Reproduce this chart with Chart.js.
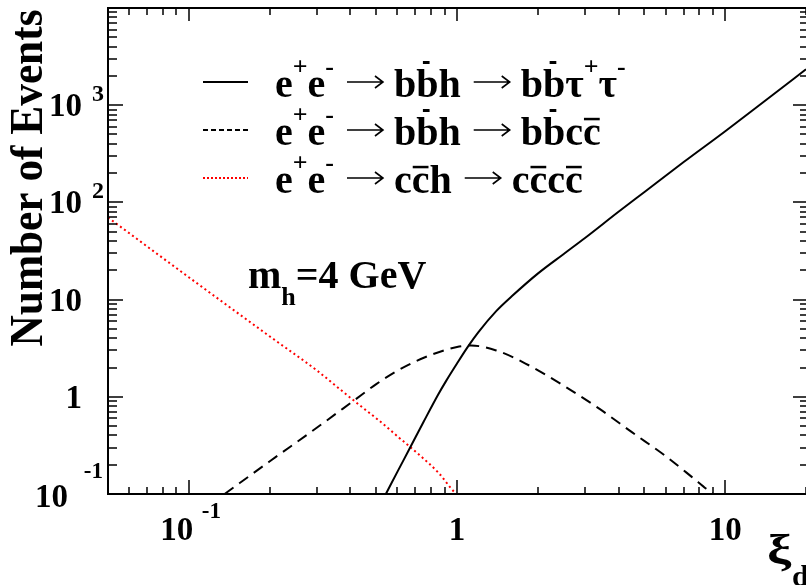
<!DOCTYPE html>
<html>
<head>
<meta charset="utf-8">
<script src="https://cdn.jsdelivr.net/npm/chart.js@4"></script>
<style>
  html, body { margin: 0; padding: 0; background: #fff; }
</style>
</head>
<body>
<canvas id="c" width="806" height="585"></canvas>
<script>
// e+e- -> bbh -> bb tau tau (solid)
const tauX = [0.543, 0.6, 0.66, 0.75, 0.85, 0.91, 1.0, 1.1, 1.2, 1.4, 1.6, 2.0, 2.5, 3.0, 4.0, 5.0, 7.0, 10, 14, 20];
const tauY = [0.1, 0.17, 0.28, 0.55, 1.05, 1.45, 2.2, 3.3, 4.6, 7.6, 10.8, 18.5, 29.5, 43, 80, 128, 260, 540, 1100, 2340];
// e+e- -> bbh -> bbcc (dashed)
const bbccX = [0.136, 0.2, 0.3, 0.416, 0.5, 0.608, 0.8, 1.0, 1.13, 1.4, 1.8, 2.5, 3.4, 4.5, 6.0, 7.5, 8.5, 9.0];
const bbccY = [0.1, 0.216, 0.48, 0.93, 1.35, 1.9, 2.7, 3.25, 3.37, 3.0, 2.2, 1.3, 0.75, 0.43, 0.245, 0.15, 0.113, 0.1];
// e+e- -> cch -> cccc (red dotted)
const ccccX = [0.05, 0.1, 0.2, 0.3, 0.363, 0.431, 0.512, 0.608, 0.721, 0.857, 0.98, 1.0];
const ccccY = [70, 17, 4.2, 1.87, 1.22, 0.83, 0.57, 0.38, 0.255, 0.163, 0.104, 0.1];

const xRange = [0.05, 20];
const yRange = [0.1, 10000];

// tick labels: base and exponent
const xLabelVals = [0.1, 1, 10];
const xLabelBase = ['10', '1', '10'];
const xLabelExp = ['-1', '', ''];
const yLabelVals = [0.1, 1, 10, 100, 1000];
const yLabelBase = ['10', '1', '10', '10', '10'];
const yLabelExp = ['-1', '', '', '2', '3'];

const seriesNames = ['e+e- → bb̄h → bb̄τ+τ-', 'e+e- → bb̄h → bb̄cc̄', 'e+e- → cc̄h → cc̄cc̄'];

// legend text pieces: [text, kind]
const legendRows = [
  [['e', ''], ['+', 'sup'], ['e', ''], ['-', 'sup'], ['→', 'arr'], ['b', ''], ['b', 'bbar'], ['h', ''],
   ['→', 'arr'], ['b', ''], ['b', 'bbar'], ['τ', ''], ['+', 'sup'], ['τ', ''], ['-', 'sup']],
  [['e', ''], ['+', 'sup'], ['e', ''], ['-', 'sup'], ['→', 'arr'], ['b', ''], ['b', 'bbar'], ['h', ''],
   ['→', 'arr'], ['b', ''], ['b', 'bbar'], ['c', ''], ['c', 'bar']],
  [['e', ''], ['+', 'sup'], ['e', ''], ['-', 'sup'], ['→', 'arr'], ['c', ''], ['c', 'bar'], ['h', ''],
   ['→', 'arr'], ['c', ''], ['c', 'bar'], ['c', ''], ['c', 'bar']]
];

const serif = '"Liberation Serif", "Times New Roman", serif';

function pts(xs, ys) {
  return xs.map((x, i) => ({ x: x, y: ys[i] }));
}

function logTicks(min, max) {
  const out = [];
  for (let e = Math.floor(Math.log10(min)); e <= Math.ceil(Math.log10(max)); e++) {
    for (let m = 1; m < 10; m++) {
      const v = m * Math.pow(10, e);
      if (v >= min * 0.999 && v <= max * 1.001) out.push({ v: v, major: m === 1 });
    }
  }
  return out;
}

// draws a long thin arrow like the ROOT symbol font one
function drawArrow(ctx, x0, x1, y) {
  ctx.save();
  ctx.strokeStyle = '#000';
  ctx.lineWidth = 1.6;
  ctx.beginPath();
  ctx.moveTo(x0, y);
  ctx.lineTo(x1, y);
  ctx.moveTo(x1 - 8, y - 6);
  ctx.lineTo(x1, y);
  ctx.lineTo(x1 - 8, y + 6);
  ctx.stroke();
  ctx.restore();
}

function richText(ctx, x, y, parts, size) {
  parts.forEach(p => {
    const t = p[0], k = p[1];
    if (k === 'arr') {
      drawArrow(ctx, x + 13, x + 49, y - 15);
      x += 60;
      return;
    }
    const s = (k === 'sup' || k === 'sub') ? Math.round(size * 0.65) : size;
    ctx.font = 'bold ' + s + 'px ' + serif;
    const dy = k === 'sup' ? -size * 0.55 : (k === 'sub' ? size * 0.42 : 0);
    ctx.fillText(t, x, y + dy);
    const w = ctx.measureText(t).width;
    if (k === 'bar') ctx.fillRect(x + 1, y - size * 0.68, w - 2, 2.5);
    if (k === 'bbar') ctx.fillRect(x + w * 0.3, y - size * 0.9, w * 0.3, 3);
    x += w;
  });
  return x;
}

const rootAxes = {
  id: 'rootAxes',
  afterDraw(chart) {
    const ctx = chart.ctx;
    const a = chart.chartArea;
    const xs = chart.scales.x, ys = chart.scales.y;
    ctx.save();

    // frame
    ctx.strokeStyle = '#000';
    ctx.lineWidth = 2;
    ctx.beginPath();
    ctx.moveTo(a.right + 2, a.top);
    ctx.lineTo(a.left, a.top);
    ctx.lineTo(a.left, a.bottom);
    ctx.lineTo(a.right + 2, a.bottom);
    ctx.stroke();

    // ticks pointing inward
    ctx.lineWidth = 1.5;
    ctx.beginPath();
    logTicks(xRange[0], xRange[1]).forEach(t => {
      const px = Math.round(xs.getPixelForValue(t.v));
      ctx.moveTo(px, a.bottom);
      ctx.lineTo(px, a.bottom - (t.major ? 14 : 7));
      ctx.moveTo(px, a.top);
      ctx.lineTo(px, a.top + (t.major ? 13 : 7));
    });
    logTicks(yRange[0], yRange[1]).forEach(t => {
      const py = Math.round(ys.getPixelForValue(t.v));
      ctx.moveTo(a.left, py);
      ctx.lineTo(a.left + (t.major ? 15 : 9), py);
      ctx.moveTo(a.right, py);
      ctx.lineTo(a.right - (t.major ? 13 : 6), py);
    });
    ctx.stroke();

    ctx.fillStyle = '#000';
    ctx.textBaseline = 'alphabetic';

    // y labels
    yLabelVals.forEach((v, i) => {
      const py = ys.getPixelForValue(v);
      ctx.textAlign = 'right';
      if (yLabelExp[i].charAt(0) === '-') {
        ctx.font = 'bold 33px ' + serif;
        ctx.fillText(yLabelBase[i], a.left - 40, py + 13);
        ctx.font = 'bold 23px ' + serif;
        ctx.fillText(yLabelExp[i], a.left - 5, py - 16);
      } else {
        ctx.font = 'bold 33px ' + serif;
        ctx.fillText(yLabelBase[i], a.left - 26, py + 11);
        if (yLabelExp[i]) {
          ctx.textAlign = 'left';
          ctx.font = 'bold 24px ' + serif;
          ctx.fillText(yLabelExp[i], a.left - 16, py - 4);
        }
      }
    });

    // x labels
    xLabelVals.forEach((v, i) => {
      const px = xs.getPixelForValue(v);
      ctx.font = 'bold 33px ' + serif;
      if (xLabelExp[i]) {
        ctx.textAlign = 'center';
        ctx.fillText(xLabelBase[i], px - 12, a.bottom + 46);
        ctx.textAlign = 'left';
        ctx.font = 'bold 23px ' + serif;
        ctx.fillText(xLabelExp[i], px + 13, a.bottom + 24);
      } else {
        ctx.textAlign = 'center';
        ctx.fillText(xLabelBase[i], px, a.bottom + 46);
      }
    });

    // x title: xi_d
    ctx.textAlign = 'left';
    ctx.save();
    ctx.translate(767, 564);
    ctx.scale(1.3, 1);
    ctx.font = 'bold 42px ' + serif;
    ctx.fillText('ξ', 0, 0);
    ctx.restore();
    ctx.font = 'bold 30px ' + serif;
    ctx.fillText('d', 792, 586);

    // y title, squeezed to the reference length
    ctx.save();
    ctx.translate(42, 178);
    ctx.rotate(-Math.PI / 2);
    ctx.textAlign = 'center';
    ctx.font = 'bold 46px ' + serif;
    const tw = ctx.measureText('Number of Events').width;
    ctx.scale(337 / tw, 1);
    ctx.fillText('Number of Events', 0, 0);
    ctx.restore();

    // legend
    const styles = [
      { color: '#000', dash: [] },
      { color: '#000', dash: [5, 3] },
      { color: '#ff0000', dash: [2, 2] }
    ];
    const baselines = [97, 145, 193];
    legendRows.forEach((row, i) => {
      ctx.strokeStyle = styles[i].color;
      ctx.lineWidth = 2;
      ctx.setLineDash(styles[i].dash);
      ctx.beginPath();
      ctx.moveTo(203, baselines[i] - 15);
      ctx.lineTo(248, baselines[i] - 15);
      ctx.stroke();
      ctx.setLineDash([]);
      ctx.textAlign = 'left';
      richText(ctx, 275, baselines[i], row, 40);
    });

    // mass annotation
    richText(ctx, 248, 288, [['m', ''], ['h', 'sub'], ['=4 GeV', '']], 40);

    ctx.restore();
  }
};

const ctx = document.getElementById('c').getContext('2d');
const chart = new Chart(ctx, {
  type: 'scatter',
  data: {
    datasets: [
      {
        label: seriesNames[0],
        data: pts(tauX, tauY),
        showLine: true,
        borderColor: '#000',
        borderWidth: 2,
        pointRadius: 0,
        cubicInterpolationMode: 'monotone'
      },
      {
        label: seriesNames[1],
        data: pts(bbccX, bbccY),
        showLine: true,
        borderColor: '#000',
        borderWidth: 2,
        borderDash: [11, 7],
        pointRadius: 0,
        cubicInterpolationMode: 'monotone'
      },
      {
        label: seriesNames[2],
        data: pts(ccccX, ccccY),
        showLine: true,
        borderColor: '#ff0000',
        borderWidth: 2,
        borderDash: [2, 3],
        pointRadius: 0,
        cubicInterpolationMode: 'monotone'
      }
    ]
  },
  options: {
    responsive: false,
    animation: false,
    devicePixelRatio: 1,
    layout: { padding: { left: 108, top: 8, right: 0, bottom: 91 } },
    plugins: { legend: { display: false }, tooltip: { enabled: false } },
    scales: {
      x: { type: 'logarithmic', min: xRange[0], max: xRange[1], display: false },
      y: { type: 'logarithmic', min: yRange[0], max: yRange[1], display: false }
    }
  },
  plugins: [rootAxes]
});
</script>
</body>
</html>
